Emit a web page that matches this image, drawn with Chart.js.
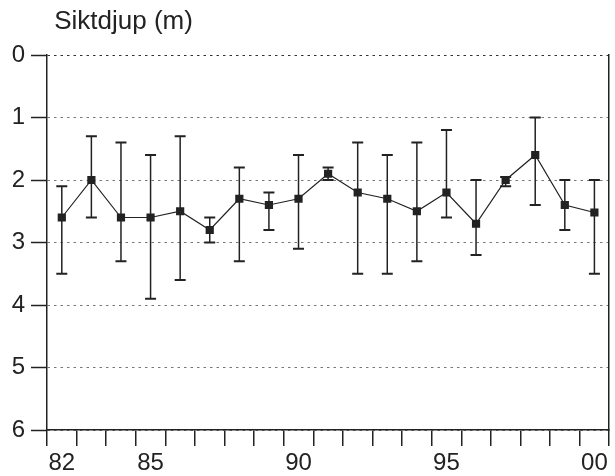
<!DOCTYPE html>
<html>
<head>
<meta charset="utf-8">
<script src="https://cdn.jsdelivr.net/npm/chart.js@4/dist/chart.umd.min.js"></script>
<style>
  html, body { margin: 0; padding: 0; background: #fff; }
  #wrap { width: 615px; height: 476px; }
</style>
</head>
<body>
<div id="wrap"><canvas id="chart"></canvas></div>
<script>
const years = ['82', '83', '84', '85', '86', '87', '88', '89', '90', '91',
  '92', '93', '94', '95', '96', '97', '98', '99', '00']
const shownYears = ['82', '85', '90', '95', '00']

// mean Secchi depth per year and its min / max range
const depth = [2.6, 2.0, 2.6, 2.6, 2.5, 2.8, 2.3, 2.4, 2.3, 1.9,
  2.2, 2.3, 2.5, 2.2, 2.7, 2.0, 1.6, 2.4, 2.52]
const minDepth = [2.1, 1.3, 1.4, 1.6, 1.3, 2.6, 1.8, 2.2, 1.6, 1.8,
  1.4, 1.6, 1.4, 1.2, 2.0, 1.95, 1.0, 2.0, 2.0]
const maxDepth = [3.5, 2.6, 3.3, 3.9, 3.6, 3.0, 3.3, 2.8, 3.1, 2.0,
  3.5, 3.5, 3.3, 2.6, 3.2, 2.1, 2.4, 2.8, 3.5]

const ink = '#222'
const font = 'Arial, "Liberation Sans", Helvetica, sans-serif'

// draws min-max whiskers under the points
const errorBars = {
  id: 'errorBars',
  beforeDatasetsDraw (chart) {
    const { ctx, scales: { x, y } } = chart
    ctx.save()
    ctx.strokeStyle = ink
    years.forEach((yr, i) => {
      const px = x.getPixelForValue(i)
      const top = y.getPixelForValue(minDepth[i])
      const bot = y.getPixelForValue(maxDepth[i])
      ctx.lineWidth = 1.5
      ctx.beginPath()
      ctx.moveTo(px, top)
      ctx.lineTo(px, bot)
      ctx.stroke()
      ctx.lineWidth = 2
      ctx.beginPath()
      ctx.moveTo(px - 5.5, top)
      ctx.lineTo(px + 5.5, top)
      ctx.moveTo(px - 5.5, bot)
      ctx.lineTo(px + 5.5, bot)
      ctx.stroke()
    })
    ctx.restore()
  }
}

new Chart(document.getElementById('chart'), {
  type: 'line',
  data: {
    labels: years,
    datasets: [{
      label: 'Siktdjup',
      data: depth,
      borderColor: ink,
      backgroundColor: ink,
      borderWidth: 1.2,
      tension: 0,
      pointStyle: 'rect',
      pointRadius: 5.8,
      pointBorderWidth: 0
    }]
  },
  plugins: [errorBars],
  options: {
    responsive: true,
    maintainAspectRatio: false,
    animation: false,
    layout: { padding: 0 },
    plugins: {
      legend: { display: false },
      tooltip: { enabled: false },
      title: {
        display: true,
        text: ' Siktdjup (m)',
        align: 'start',
        fullSize: false,
        color: ink,
        font: { family: font, size: 26, weight: 'normal' },
        padding: { top: 6, bottom: 17.8 }
      }
    },
    scales: {
      x: {
        type: 'category',
        offset: true,
        grid: {
          offset: true,
          drawOnChartArea: false,
          drawTicks: true,
          tickLength: 16,
          tickColor: ink,
          lineWidth: 1.5
        },
        border: { display: true, color: ink, width: 1.5 },
        ticks: {
          autoSkip: false,
          maxRotation: 0,
          padding: 3,
          color: ink,
          font: { family: font, size: 24 },
          callback (val) {
            const lbl = this.getLabelForValue(val)
            return shownYears.includes(lbl) ? lbl : ''
          }
        },
        afterFit (scale) { scale.height = 46 }
      },
      y: {
        reverse: true,
        min: 0,
        max: 6,
        grid: {
          color: (c) => c.tick && c.tick.value === 0 ? '#333' : '#777',
          lineWidth: 1,
          drawTicks: true,
          tickLength: 16,
          tickColor: ink,
          tickWidth: 1.5
        },
        border: { display: true, color: ink, width: 1.5, dash: [2.5, 4] },
        ticks: {
          stepSize: 1,
          padding: 6,
          color: ink,
          font: { family: font, size: 24 }
        },
        afterFit (scale) { scale.width = 47 }
      },
      y2: {
        position: 'right',
        min: 0,
        max: 6,
        grid: { display: false },
        ticks: { display: false },
        border: { display: true, color: ink, width: 1.5 },
        afterFit (scale) { scale.width = 2 }
      }
    }
  }
})
</script>
</body>
</html>
